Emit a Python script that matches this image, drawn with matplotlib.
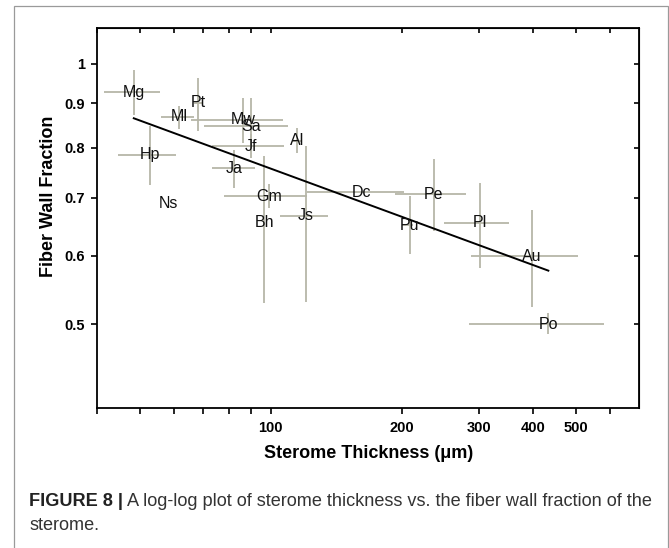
import matplotlib
matplotlib.use("Agg")
import matplotlib.pyplot as plt
import matplotlib.ticker as mticker
from matplotlib import font_manager
from matplotlib.patches import Rectangle
import numpy as np

plt.rcParams["font.family"] = ["Liberation Sans", "DejaVu Sans"]

# ── data ─────────────────────────────────────────────────
species = ["Mg", "Ml", "Pt", "Mw", "Sa", "Jf", "Al", "Hp", "Ja", "Ns",
           "Gm", "Bh", "Js", "Dc", "Pe", "Pu", "Pl", "Au", "Po"]
thickness = [48.5, 61.5, 68.1, 86.3, 90.0, 90.0, 114.7, 52.8, 82.4, 58.3,
             99.3, 96.7, 120.4, 161.5, 236.3, 208.2, 302.0, 396.7, 433.0]
thick_lo = [41.4, 56.1, 66.5, 65.5, 70.1, 73.3, 112.0, 44.6, 73.3, 58.3,
            78.3, 96.7, 105.0, 120.9, 192.5, 200.0, 249.5, 287.2, 284.6]
thick_hi = [55.6, 66.5, 69.7, 106.9, 109.7, 107.3, 117.0, 60.7, 92.1, 58.3,
            120.9, 96.7, 135.4, 201.8, 280.7, 212.0, 352.6, 506.3, 581.5]
fraction = [0.926, 0.868, 0.901, 0.861, 0.847, 0.803, 0.814, 0.785, 0.757, 0.689,
            0.703, 0.655, 0.667, 0.710, 0.707, 0.651, 0.655, 0.599, 0.500]
frac_lo = [0.872, 0.841, 0.836, 0.810, 0.800, 0.778, 0.789, 0.724, 0.718, 0.689,
           0.681, 0.529, 0.531, 0.710, 0.640, 0.603, 0.581, 0.523, 0.487]
frac_hi = [0.983, 0.893, 0.963, 0.912, 0.913, 0.830, 0.843, 0.847, 0.794, 0.689,
           0.726, 0.783, 0.803, 0.710, 0.775, 0.703, 0.728, 0.677, 0.515]

# power-law fit  y = a * x^b
fit_a = 1.773
fit_b = -0.185

y_ticks = [0.5, 0.6, 0.7, 0.8, 0.9, 1.0]
x_ticks = [100, 200, 300, 400, 500]
x_minor = [40, 50, 60, 70, 80, 90, 600]

caption_bold = "FIGURE 8 |"
caption_rest = " A log-log plot of sterome thickness vs. the fiber wall fraction of the"
caption_line2 = "sterome."

W, H = 669, 548
fig = plt.figure(figsize=(W / 100, H / 100), dpi=100)

# panel frame
fig.patches.append(Rectangle((14 / W, -0.05), (667.5 - 14) / W, 1 - 6 / H + 0.05,
                             transform=fig.transFigure, fill=False,
                             edgecolor="#9a9a9a", lw=0.9))

ax = fig.add_axes([97.3 / W, 1 - 408.3 / H, (639.3 - 97.3) / W, (408.3 - 27.7) / H])
ax.set_xscale("log")
ax.set_yscale("log")
ax.set_xlim(40, 700)
ax.set_ylim(0.4, 1.1)

x = np.array(thickness)
y = np.array(fraction)
xerr = [x - np.array(thick_lo), np.array(thick_hi) - x]
yerr = [y - np.array(frac_lo), np.array(frac_hi) - y]
ax.errorbar(x, y, xerr=xerr, yerr=yerr, fmt="none", ecolor="#b6b6a8",
            elinewidth=1.3, capsize=0, zorder=2)

xf = np.logspace(np.log10(x.min()), np.log10(x.max()), 50)
ax.plot(xf, fit_a * xf ** fit_b, color="black", lw=1.4, zorder=3)

for lab, xi, yi in zip(species, thickness, fraction):
    ax.text(xi, yi, lab, ha="center", va="center", fontsize=11.5,
            color="#111111", zorder=4)

# ticks
ax.yaxis.set_major_locator(mticker.FixedLocator(y_ticks))
ax.yaxis.set_major_formatter(mticker.FixedFormatter(["%g" % v for v in y_ticks]))
ax.yaxis.set_minor_locator(mticker.NullLocator())
ax.xaxis.set_major_locator(mticker.FixedLocator(x_ticks))
ax.xaxis.set_major_formatter(mticker.FixedFormatter([str(v) for v in x_ticks]))
ax.xaxis.set_minor_locator(mticker.FixedLocator(x_minor))
ax.xaxis.set_minor_formatter(mticker.NullFormatter())
ax.tick_params(which="both", direction="out", length=4, width=1.2,
               labelsize=10.5, pad=5)
for lbl in ax.get_xticklabels() + ax.get_yticklabels():
    lbl.set_fontweight("bold")
for sp in ax.spines.values():
    sp.set_linewidth(1.3)

# inward ticks on top and right
top = ax.secondary_xaxis("top", functions=(lambda v: v, lambda v: v))
top.xaxis.set_major_locator(mticker.FixedLocator(x_ticks + x_minor))
top.xaxis.set_minor_locator(mticker.NullLocator())
top.tick_params(direction="in", length=3.5, width=1.2, labeltop=False)
right = ax.secondary_yaxis("right", functions=(lambda v: v, lambda v: v))
right.yaxis.set_major_locator(mticker.FixedLocator(y_ticks))
right.yaxis.set_minor_locator(mticker.NullLocator())
right.tick_params(direction="in", length=3.5, width=1.2, labelright=False)

ax.set_xlabel("Sterome Thickness (\u03bcm)", fontsize=13, fontweight="bold")
ax.set_ylabel("Fiber Wall Fraction", fontsize=13, fontweight="bold")
ax.xaxis.set_label_coords(0.5, -(453 - 408.3) / 380.6)
ax.xaxis.label.set_va("center")
ax.yaxis.set_label_coords((49 - 97.3) / 542, 1 - (196 - 27.7) / 380.6)
ax.yaxis.label.set_va("center")

# caption
names = {f.name for f in font_manager.fontManager.ttflist}
cap_family = "Liberation Sans Narrow" if "Liberation Sans Narrow" in names else "Liberation Sans"
renderer = fig.canvas.get_renderer()
target_w = 653 - 29
size = 14.0
for _ in range(3):
    ta = fig.text(0, 0, caption_bold, fontsize=size, fontweight="bold", family=cap_family)
    tb = fig.text(0, 0, caption_rest, fontsize=size, family=cap_family)
    w = ta.get_window_extent(renderer).width + tb.get_window_extent(renderer).width
    ta.remove()
    tb.remove()
    size *= target_w / w

t1 = fig.text(29 / W, 1 - 502 / H, caption_bold, fontsize=size, fontweight="bold",
              family=cap_family, va="center", ha="left", color="#222222")
bb = t1.get_window_extent(renderer)
fig.text(bb.x1 / W, 1 - 502 / H, caption_rest, fontsize=size, family=cap_family,
         va="center", ha="left", color="#333333")
fig.text(29 / W, 1 - 525.5 / H, caption_line2, fontsize=size, family=cap_family,
         va="center", ha="left", color="#333333")

fig.savefig("out.png", dpi=100)
